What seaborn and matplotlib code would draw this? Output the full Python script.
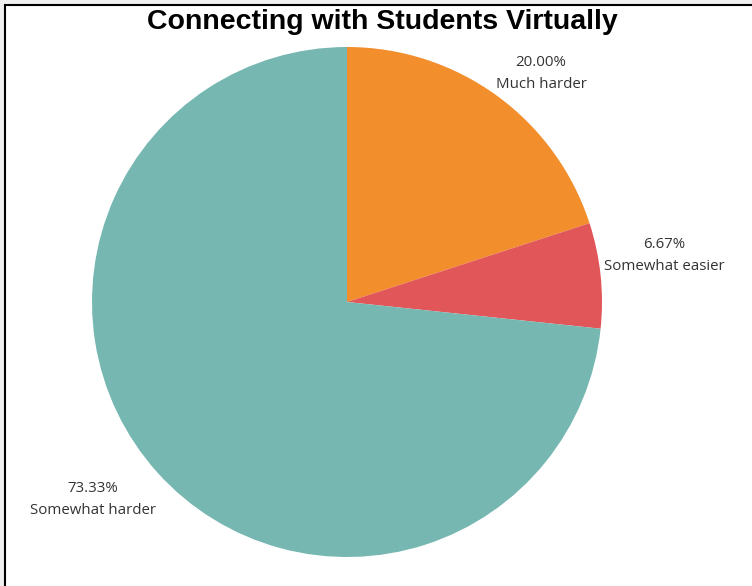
import matplotlib
matplotlib.use("Agg")
import matplotlib.pyplot as plt
import seaborn as sns
from matplotlib.patches import Rectangle

categories = ["Much harder", "Somewhat easier", "Somewhat harder"]
values = [20.00, 6.67, 73.33]
pct_labels = ["20.00%", "6.67%", "73.33%"]
title = "Connecting with Students Virtually"

sns.set_theme(style="white")
plt.rcParams['font.family'] = ['Open Sans', 'DejaVu Sans']

W, H = 752, 586
fig = plt.figure(figsize=(W / 100, H / 100), dpi=100)
fig.patch.set_facecolor("#f0f0f0")
fig.patches.append(Rectangle((5 / W, -0.1), 1.2, 1 - 5 / H + 0.1, transform=fig.transFigure,
                             facecolor="white", edgecolor="black", linewidth=1.5, zorder=-1))

palette = sns.color_palette(["#F28E2B", "#E15759", "#76B7B2"])

cx, cy, r = 347, 302, 255
ax = fig.add_axes([(cx - r) / W, (H - cy - r) / H, 2 * r / W, 2 * r / H])
ax.set_zorder(2)
ax.patch.set_alpha(0)
ax.pie(values, colors=palette, startangle=90, counterclock=False, radius=1,
       wedgeprops=dict(linewidth=0))
ax.set_xlim(-1, 1)
ax.set_ylim(-1, 1)
ax.set_aspect("auto")
ax.axis("off")

# label positions in pixels (center x, first line y)
label_pos = [(541, 62), (664, 245), (93, 488)]
for (lx, ly), pct, cat in zip(label_pos, pct_labels, categories):
    fig.text(lx / W, 1 - ly / H, pct, ha="center", va="center", fontsize=10.8, color="#333333", zorder=3)
    fig.text(lx / W, 1 - (ly + 22) / H, cat, ha="center", va="center", fontsize=10.8, color="#333333", zorder=3)

fig.text(382 / W, 1 - 22 / H, title, ha="center", va="center", fontsize=20.5,
         fontweight="bold", family=["Liberation Sans", "DejaVu Sans"], color="black", zorder=3)

fig.savefig("out.png", dpi=100, facecolor=fig.get_facecolor())
